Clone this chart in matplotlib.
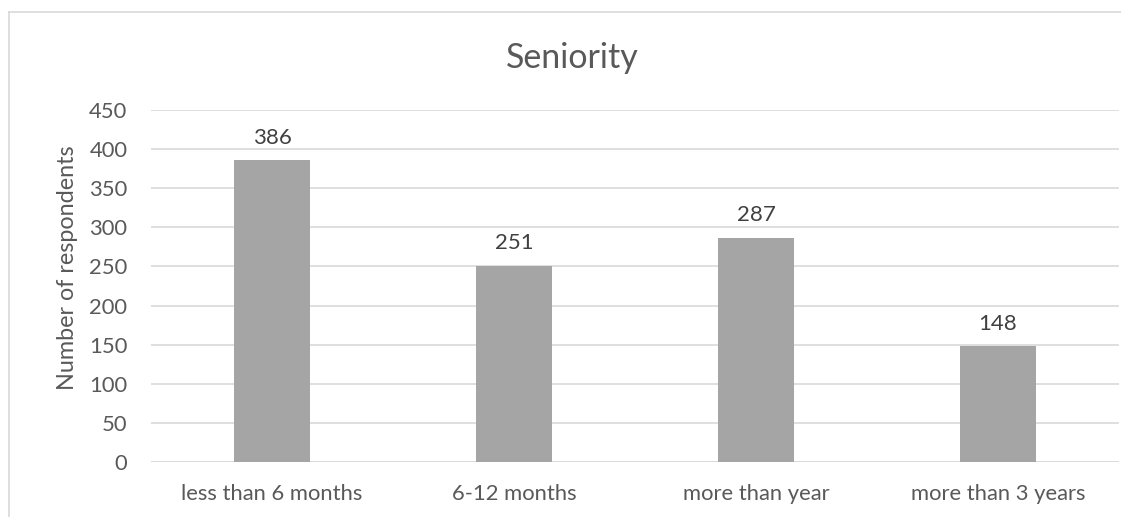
import matplotlib.pyplot as plt
from matplotlib.lines import Line2D

categories = ["less than 6 months", "6-12 months", "more than year", "more than 3 years"]
respondents = [386, 251, 287, 148]
y_ticks = [0, 50, 100, 150, 200, 250, 300, 350, 400, 450]

text_color = "#595959"
grid_color = "#D9D9D9"
bar_color = "#A5A5A5"

plt.rcParams['font.family'] = ['Lato', 'DejaVu Sans']

fig = plt.figure(figsize=(11.21, 5.17), dpi=100)
W, H = 1121, 517

# chart frame: only the left and top edges fall inside the image
fx, fy = 8.5 / W, 1 - 11.5 / H
fig.add_artist(Line2D([fx, fx], [0, fy], transform=fig.transFigure,
                      color=grid_color, linewidth=1.2))
fig.add_artist(Line2D([fx, 1], [fy, fy], transform=fig.transFigure,
                      color=grid_color, linewidth=1.2))

ax = fig.add_axes([151 / W, (H - 462) / H, (1119 - 151) / W, (462 - 110) / H])

x = list(range(len(categories)))
bars = ax.bar(x, respondents, width=0.31, color=bar_color, zorder=2)
for rect, val in zip(bars, respondents):
    ax.annotate(str(val), (rect.get_x() + rect.get_width() / 2, val),
                xytext=(0, 9), textcoords='offset points',
                ha='center', va='bottom', fontsize=16, color='#404040')

ax.set_xlim(-0.5, len(categories) - 0.5)
ax.set_ylim(0, 450)
ax.set_yticks(y_ticks)
ax.yaxis.grid(True, color=grid_color, linewidth=1.2, zorder=0)
ax.set_xticks(x)
ax.set_xticklabels(categories)
ax.tick_params(axis='both', length=0, labelsize=15.8, colors=text_color)
ax.tick_params(axis='x', pad=16)
ax.tick_params(axis='y', pad=17)
for s in ax.spines.values():
    s.set_visible(False)
ax.axhline(0, color=grid_color, linewidth=1.2, zorder=1)

fig.text(68 / W, 1 - 268 / H, "Number of respondents", rotation=90,
         ha='center', va='center', fontsize=16.8, color=text_color)
fig.text(572 / W, 1 - 58 / H, "Seniority", ha='center', va='center',
         fontsize=24.5, color=text_color)

fig.savefig("out.png", dpi=100)
